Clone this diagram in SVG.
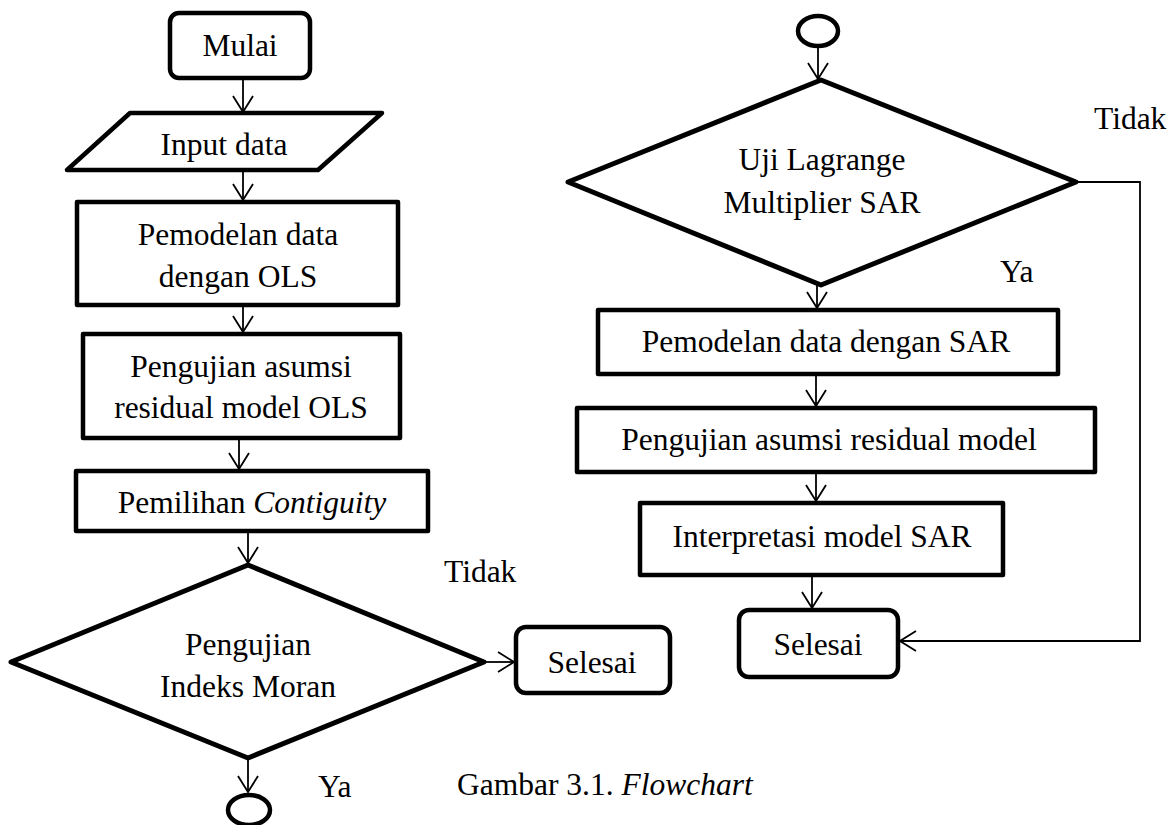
<svg xmlns="http://www.w3.org/2000/svg" width="1168" height="825" viewBox="0 0 1168 825">
<style>
.box{fill:#fff;stroke:#000;stroke-width:4.5;stroke-linejoin:round}
.dia{fill:#fff;stroke:#000;stroke-width:5;stroke-linejoin:round}
.term{fill:none;stroke:#000;stroke-width:4.5}
.t{font-family:"Liberation Serif","Times New Roman",serif;font-size:31.5px;fill:#000}
.c{text-anchor:middle}
.conn{fill:none;stroke:#000;stroke-width:1.8}
</style>
<defs>
<marker id="arr" viewBox="0 0 18 22" refX="17" refY="11" markerWidth="18" markerHeight="22" orient="auto" markerUnits="userSpaceOnUse">
<path d="M1,1 L17,11 L1,21" fill="none" stroke="#000" stroke-width="1.8"/>
</marker>
</defs>
<rect width="1168" height="825" fill="#fff"/>
<g id="connectors">
<line class="conn" x1="243" y1="78" x2="243" y2="112" marker-end="url(#arr)"/>
<line class="conn" x1="243" y1="171" x2="243" y2="200" marker-end="url(#arr)"/>
<line class="conn" x1="243" y1="305" x2="243" y2="332" marker-end="url(#arr)"/>
<line class="conn" x1="239" y1="438" x2="239" y2="469" marker-end="url(#arr)"/>
<line class="conn" x1="248" y1="531" x2="248" y2="563" marker-end="url(#arr)"/>
<line class="conn" x1="484" y1="662" x2="514" y2="662" marker-end="url(#arr)"/>
<line class="conn" x1="248" y1="758" x2="248" y2="792" marker-end="url(#arr)"/>
<line class="conn" x1="818" y1="46" x2="818" y2="79" marker-end="url(#arr)"/>
<line class="conn" x1="817" y1="285" x2="817" y2="308" marker-end="url(#arr)"/>
<line class="conn" x1="816" y1="374" x2="816" y2="406" marker-end="url(#arr)"/>
<line class="conn" x1="816" y1="472" x2="816" y2="501" marker-end="url(#arr)"/>
<line class="conn" x1="812" y1="575" x2="812" y2="608" marker-end="url(#arr)"/>
<polyline class="conn" points="1076,182 1140,182 1140,641 900,641" marker-end="url(#arr)"/>
</g>
<g id="mulai">
<rect class="box" x="170" y="13" width="140" height="65" rx="9"/>
<text class="t c" x="240" y="56">Mulai</text>
</g>
<g id="input">
<polygon class="box" points="130,113 382,113 318,170 67,170"/>
<text class="t c" x="224" y="155">Input data</text>
</g>
<g id="pemodelan-ols">
<rect class="box" x="77" y="202" width="321" height="103"/>
<text class="t c" x="238" y="245">Pemodelan data</text>
<text class="t c" x="238" y="287">dengan OLS</text>
</g>
<g id="uji-asumsi-ols">
<rect class="box" x="83" y="334" width="317" height="104"/>
<text class="t c" x="241" y="377">Pengujian asumsi</text>
<text class="t c" x="241" y="418">residual model OLS</text>
</g>
<g id="contiguity">
<rect class="box" x="76" y="471" width="352" height="60"/>
<text class="t c" x="252" y="513">Pemilihan <tspan font-style="italic">Contiguity</tspan></text>
</g>
<g id="moran">
<polygon class="dia" points="248,565 484,662 248,758 11,662"/>
<text class="t c" x="248" y="655">Pengujian</text>
<text class="t c" x="248" y="697">Indeks Moran</text>
</g>
<g id="selesai1">
<rect class="box" x="516" y="627" width="154" height="66" rx="10"/>
<text class="t c" x="592" y="673">Selesai</text>
</g>
<g id="conn-left">
<ellipse class="term" cx="249" cy="810" rx="21" ry="15"/>
</g>
<g id="conn-right">
<ellipse class="term" cx="818" cy="31" rx="20" ry="15"/>
</g>
<g id="lm-sar">
<polygon class="dia" points="821,80 1076,182 821,285 568,182"/>
<text class="t c" x="822" y="170">Uji Lagrange</text>
<text class="t c" x="822" y="213">Multiplier SAR</text>
</g>
<g id="pemodelan-sar">
<rect class="box" x="598" y="310" width="460" height="64"/>
<text class="t c" x="826" y="352">Pemodelan data dengan SAR</text>
</g>
<g id="uji-asumsi-sar">
<rect class="box" x="577" y="408" width="518" height="64"/>
<text class="t c" x="829" y="450">Pengujian asumsi residual model</text>
</g>
<g id="interpretasi">
<rect class="box" x="640" y="503" width="363" height="72"/>
<text class="t c" x="822" y="547">Interpretasi model SAR</text>
</g>
<g id="selesai2">
<rect class="box" x="739" y="610" width="159" height="67" rx="10"/>
<text class="t c" x="818" y="655">Selesai</text>
</g>
<g id="labels">
<text class="t" x="444" y="582">Tidak</text>
<text class="t" x="318" y="797">Ya</text>
<text class="t" x="1094" y="129">Tidak</text>
<text class="t" x="1000" y="282">Ya</text>
<text class="t" x="457" y="795">Gambar 3.1. <tspan font-style="italic">Flowchart</tspan></text>
</g>
</svg>
